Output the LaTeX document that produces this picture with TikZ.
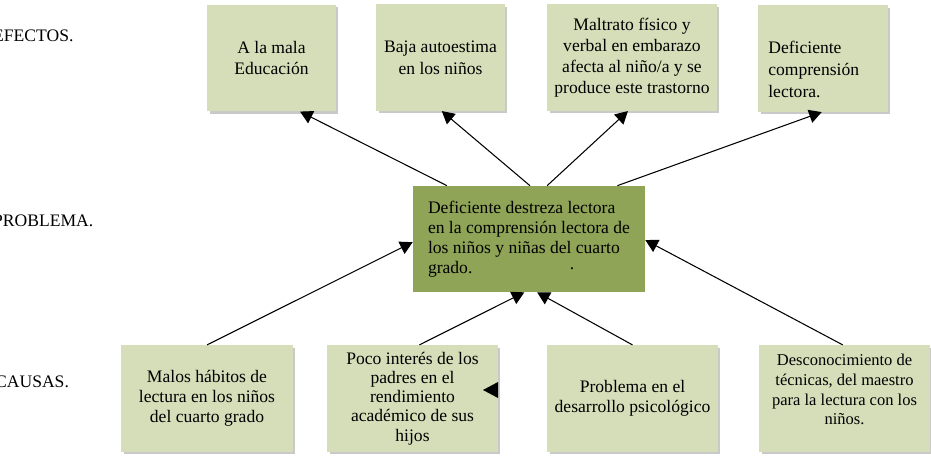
\documentclass[tikz,border=0pt]{standalone}
\usepackage{fontspec}
\setmainfont{Liberation Serif}
\usepackage{xcolor}
\usepackage{tikz}
\usetikzlibrary{positioning, calc, arrows.meta, shadows}

\definecolor{sage}{RGB}{214,221,185}
\definecolor{olive}{RGB}{143,164,87}

\begin{document}
\begin{tikzpicture}[x=0.02cm, y=-0.02cm,
        sidebox/.style={rectangle, fill=sage, align=center, inner sep=2pt,
            minimum height=2.13cm,
            drop shadow={shadow xshift=0.05cm, shadow yshift=-0.05cm, fill=black!30, opacity=0.7},
            font=\fontsize{10}{11.5}\selectfont},
        probbox/.style={rectangle, fill=olive, align=left, minimum width=4.64cm,
            minimum height=2.12cm, font=\fontsize{10}{11.4}\selectfont},
        rowlabel/.style={anchor=base west, font=\fontsize{10}{12}\selectfont},
        arr/.style={-{Triangle[length=0.25cm, width=0.27cm]}, semithick}]

            \useasboundingbox (0,0) rectangle (931,466);

            % Row labels
            \node[rowlabel] (lefectos) at (-13,42) {EFECTOS.};
            \node[rowlabel] (lproblema) at (-13,227) {PROBLEMA.};
            \node[rowlabel] (lcausas) at (-11,387) {CAUSAS.};

            % Effects
            \node[sidebox, minimum width=2.58cm, font=\fontsize{10}{12.5}\selectfont] (efa) at (271.5,58) {A la mala\\Educación};
            \node[sidebox, minimum width=2.58cm, font=\fontsize{10}{12.5}\selectfont] (efb) at (440.5,57.5) {Baja autoestima\\en los niños};
            \node[sidebox, minimum width=3.40cm, font=\fontsize{10}{12}\selectfont] (efc) at (632,57.5) {Maltrato físico y\\verbal en embarazo\\afecta al niño/a y se\\produce este trastorno};
            \node[sidebox, minimum width=2.60cm] (efd) at (823,58.5) {};
            \node[anchor=north west, align=left, inner sep=0pt, font=\fontsize{10}{12.5}\selectfont] (efdtext) at (768,41) {Deficiente\\comprensión\\lectora.};

            % Problem
            \node[probbox] (prob) at (529,239) {Deficiente destreza lectora\\en la comprensión lectora de\\los niños y niñas del cuarto\\grado.\hspace*{1.95cm}\raisebox{2pt}{.}};

            % Causes
            \node[sidebox, minimum width=3.44cm] (caa) at (207,398.5) {Malos hábitos de\\lectura en los niños\\del cuarto grado};
            \node[sidebox, minimum width=3.42cm, font=\fontsize{10}{10.9}\selectfont] (cab) at (412.5,398.5) {Poco interés de los\\padres en el\\rendimiento\\académico de sus\\hijos};
            \node[sidebox, minimum width=3.42cm] (cac) at (632.5,398.5) {Problema en el\\desarrollo psicológico};
            \node[sidebox, minimum width=3.42cm, font=\fontsize{9.4}{11.2}\selectfont] (cad) at (844.5,398.5) {Desconocimiento de\\técnicas, del maestro\\para la lectura con los\\niños.\\[-1pt]\mbox{}};

            % Arrows to the effects
            \draw[arr] ($(prob.north west)!0.147!(prob.north east)$) -- ($(efa.south west)!0.72!(efa.south east)$);
            \draw[arr] ($(prob.north west)!0.504!(prob.north east)$) -- ($(efb.south west)!0.51!(efb.south east)$);
            \draw[arr] ($(prob.north west)!0.578!(prob.north east)$) -- ($(efc.south west)!0.476!(efc.south east)$);
            \draw[arr] ($(prob.north west)!0.88!(prob.north east)$) -- ($(efd.south west)!0.49!(efd.south east)$);

            % Arrows from the causes
            \draw[arr] (caa.north) -- ($(prob.north west)!0.53!(prob.south west)$);
            \draw[arr] ($(cab.north west)!0.54!(cab.north east)$) -- ($(prob.south west)!0.48!(prob.south east)$);
            \draw[arr] (cac.north) -- ($(prob.south west)!0.535!(prob.south east)$);
            \draw[arr] ($(cad.north west)!0.49!(cad.north east)$) -- ($(prob.north east)!0.51!(prob.south east)$);

            % Loose arrow head
            \fill (498,382) -- (483,390) -- (498,398) -- cycle;

        \end{tikzpicture}
\end{document}
